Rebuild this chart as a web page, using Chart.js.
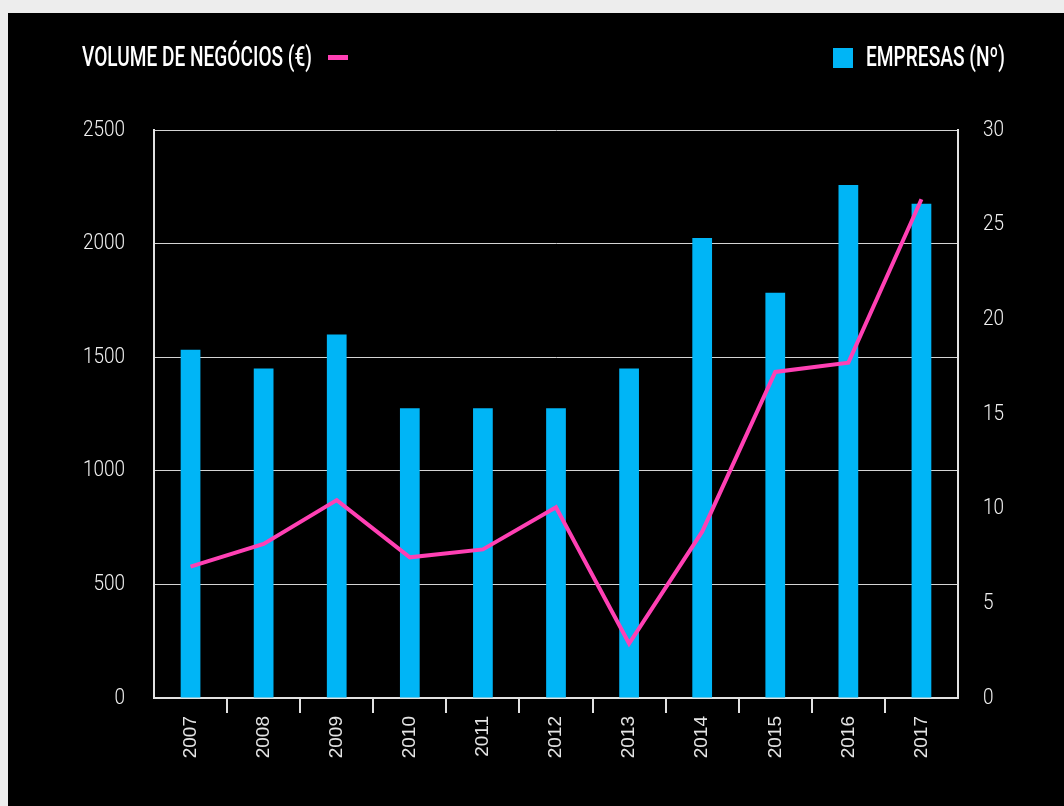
<!DOCTYPE html>
<html>
<head>
<meta charset="utf-8">
<script src="https://cdn.jsdelivr.net/npm/chart.js@4"></script>
<style>
  body { margin: 0; background: #ededed; width: 1064px; height: 806px; overflow: hidden; }
  #frame { position: absolute; left: 8px; top: 13px; right: 0; bottom: 0; background: #000; }
  #chart { position: absolute; left: 0; top: 0; }
  .head {
    position: absolute; top: 44px; color: #fff; white-space: nowrap;
    font: 500 27px Roboto, "DejaVu Sans Condensed", sans-serif;
    line-height: 27px; transform-origin: left top;
  }
  .key { position: absolute; }
</style>
</head>
<body>
<div id="frame"></div>
<canvas id="chart" width="1064" height="806"></canvas>
<div class="head" data-w="230" style="left:82px">VOLUME DE NEGÓCIOS (€)</div>
<div class="key" style="left:328px; top:55px; width:20px; height:5px; background:#ff40b4"></div>
<div class="key" style="left:833px; top:48px; width:20px; height:20px; background:#00b5f6"></div>
<div class="head" data-w="139" style="left:866px">EMPRESAS (Nº)</div>
<script>
const years = ["2007", "2008", "2009", "2010", "2011", "2012", "2013", "2014", "2015", "2016", "2017"];
const volume = [578, 678, 871, 619, 654, 839, 240, 732, 1435, 1476, 2195];
const empresas = [18.4, 17.4, 19.2, 15.3, 15.3, 15.3, 17.4, 24.3, 21.4, 27.1, 26.1];

// squeeze the headings to the condensed width of the original
document.querySelectorAll(".head").forEach(function (el) {
  const w = el.getBoundingClientRect().width;
  el.style.transform = "scaleX(" + (Number(el.dataset.w) / w) + ")";
});

const axisColor = "#e2e2e2";

// y tick labels drawn narrow (no condensed font installed)
const narrowTicks = {
  id: "narrowTicks",
  afterDraw: function (chart) {
    const ctx = chart.ctx;
    [["yVol", "right", -29], ["yEmp", "left", 25]].forEach(function (cfg) {
      const scale = chart.scales[cfg[0]];
      const x = cfg[1] === "right" ? scale.right + cfg[2] : scale.left + cfg[2];
      scale.ticks.forEach(function (t) {
        const y = scale.getPixelForValue(t.value);
        ctx.save();
        ctx.translate(x, y);
        ctx.scale(0.86, 1);
        ctx.font = "300 22px Roboto, sans-serif";
        ctx.fillStyle = "#f0f0f0";
        ctx.textAlign = cfg[1];
        ctx.textBaseline = "middle";
        ctx.fillText(String(t.value), 0, 0);
        ctx.restore();
      });
    });
  },
};

new Chart(document.getElementById("chart").getContext("2d"), {
  data: {
    labels: years,
    datasets: [
      {
        type: "line",
        label: "Volume de negócios (€)",
        data: volume,
        yAxisID: "yVol",
        borderColor: "#ff40b4",
        borderWidth: 4,
        pointRadius: 0,
        tension: 0,
        order: 0,
      },
      {
        type: "bar",
        label: "Empresas (Nº)",
        data: empresas,
        yAxisID: "yEmp",
        backgroundColor: "#00b5f6",
        categoryPercentage: 1,
        barPercentage: 0.27,
        order: 1,
      },
    ],
  },
  plugins: [narrowTicks],
  options: {
    responsive: false,
    animation: false,
    layout: { padding: { top: 130 } },
    plugins: { legend: { display: false }, tooltip: { enabled: false } },
    scales: {
      x: {
        offset: true,
        afterFit: function (s) { s.height = 108; },
        grid: {
          offset: true,
          drawOnChartArea: false,
          tickLength: 15,
          lineWidth: 2,
          color: function (ctx) {
            return ctx.type === "tick" && ctx.index > 0 ? axisColor : "transparent";
          },
        },
        border: { color: axisColor, width: 2 },
        ticks: {
          minRotation: 90,
          maxRotation: 90,
          autoSkip: false,
          padding: 3,
          color: "#e4e4e4",
          font: { family: "'Liberation Sans', Arial, sans-serif", size: 19 },
        },
      },
      yVol: {
        position: "left",
        min: 0,
        max: 2500,
        afterFit: function (s) { s.width = 154; },
        grid: { color: "#d4d4d4", lineWidth: 1, drawTicks: false },
        border: { color: axisColor, width: 2 },
        ticks: { stepSize: 500, display: false },
      },
      yEmp: {
        position: "right",
        min: 0,
        max: 30,
        afterFit: function (s) { s.width = 106; },
        grid: { drawOnChartArea: false, drawTicks: false },
        border: { color: axisColor, width: 2 },
        ticks: { stepSize: 5, display: false },
      },
    },
  },
});
</script>
</body>
</html>
